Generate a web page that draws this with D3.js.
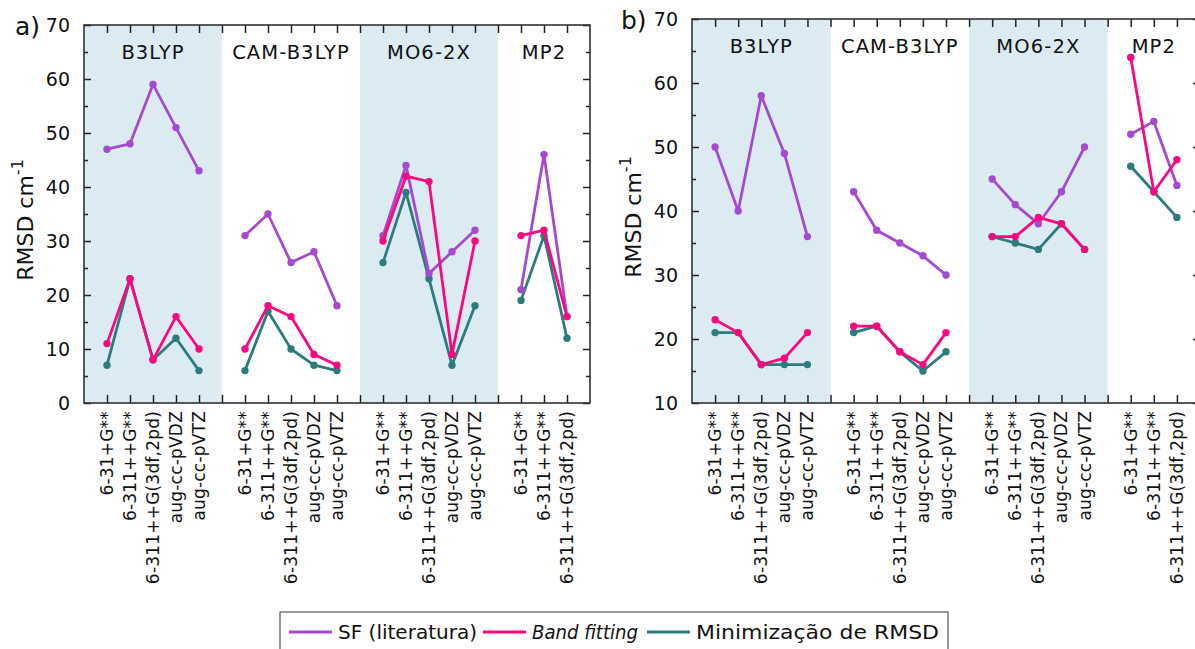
<!DOCTYPE html>
<html>
<head>
<meta charset="utf-8">
<script src="https://cdn.jsdelivr.net/npm/d3@7"></script>
<style>
body { margin: 0; background: #fff; }
text { font-family: "DejaVu Sans", Verdana, sans-serif; fill: #111; }
</style>
</head>
<body>
<div id="chart"></div>
<script>
// methods (groups) and basis sets
var groups = ["B3LYP", "CAM-B3LYP", "MO6-2X", "MP2"];
var groupSizes = [5, 5, 5, 3];
var basisSets = ["6-31+G**", "6-311++G**", "6-311++G(3df,2pd)", "aug-cc-pVDZ", "aug-cc-pVTZ"];
var seriesNames = ["SF (literatura)", "Band fitting", "Minimização de RMSD"];
var seriesColors = ["#a44ad2", "#fb077f", "#2c7c7e"];

// panel a) values, in group order
var sfA   = [47, 48, 59, 51, 43,  31, 35, 26, 28, 18,  31, 44, 24, 28, 32,  21, 46, 16];
var bandA = [11, 23, 8, 16, 10,   10, 18, 16, 9, 7,    30, 42, 41, 9, 30,   31, 32, 16];
var rmsdA = [7, 23, 8, 12, 6,     6, 17, 10, 7, 6,     26, 39, 23, 7, 18,   19, 31, 12];

// panel b) values
var sfB   = [50, 40, 58, 49, 36,  43, 37, 35, 33, 30,  45, 41, 38, 43, 50,  52, 54, 44];
var bandB = [23, 21, 16, 17, 21,  22, 22, 18, 16, 21,  36, 36, 39, 38, 34,  64, 43, 48];
var rmsdB = [21, 21, 16, 16, 16,  21, 22, 18, 15, 18,  36, 35, 34, 38, 34,  47, 43, 39];

var yTicksA = [0, 10, 20, 30, 40, 50, 60, 70];
var yTicksB = [10, 20, 30, 40, 50, 60, 70];

var svg = d3.select("#chart").append("svg")
	.attr("width", 1195)
	.attr("height", 649);

// turn a flat value list into points with a slot index (one empty slot between groups)
function toPoints(values) {
	var pts = [];
	var k = 0;
	for (var g = 0; g < groups.length; g++) {
		for (var j = 0; j < groupSizes[g]; j++) {
			pts.push({group: g, slot: g * 6 + j, value: values[k], label: basisSets[j]});
			k++;
		}
	}
	return pts;
}

function drawPanel(cfg) {
	var x = d3.scaleLinear().domain([-1, 21]).range([cfg.left, cfg.right]);
	var y = d3.scaleLinear().domain(cfg.yDomain).range([cfg.bottom, cfg.top]);
	var g = svg.append("g");

	// shaded group backgrounds
	[0, 2].forEach(function(gi) {
		g.append("rect")
			.attr("x", x(gi * 6 - 1))
			.attr("y", cfg.top)
			.attr("width", x(gi * 6 + 5) - x(gi * 6 - 1))
			.attr("height", cfg.bottom - cfg.top)
			.attr("fill", "#dcebf2");
	});

	// group names
	groups.forEach(function(name, gi) {
		var mid = gi * 6 + (groupSizes[gi] - 1) / 2;
		g.append("text")
			.attr("x", x(mid))
			.attr("y", cfg.top + 34)
			.attr("text-anchor", "middle")
			.attr("font-size", "19.5px")
			.attr("letter-spacing", "1.1px")
			.text(name);
	});

	// series lines, one path per group
	var allSeries = [cfg.rmsd, cfg.sf, cfg.band];
	var order = [2, 0, 1];
	var line = d3.line().x(function(d) { return x(d.slot); }).y(function(d) { return y(d.value); });
	allSeries.forEach(function(vals, si) {
		var pts = toPoints(vals);
		var color = seriesColors[order[si]];
		var byGroup = d3.groups(pts, function(d) { return d.group; });
		byGroup.forEach(function(grp) {
			g.append("path")
				.attr("d", line(grp[1]))
				.attr("fill", "none")
				.attr("stroke", color)
				.attr("stroke-width", 2.8)
				.attr("stroke-linejoin", "round");
		});
		g.selectAll(null).data(pts).enter().append("circle")
			.attr("cx", function(d) { return x(d.slot); })
			.attr("cy", function(d) { return y(d.value); })
			.attr("r", 3.7)
			.attr("fill", color);
	});

	// axes: ticks pointing inward, on all four sides
	var slots = d3.range(0, 21);
	var yMinor = d3.range(cfg.yDomain[0] + 5, cfg.yDomain[1], 10);
	var tickCol = "#222";

	g.append("g").attr("transform", "translate(0," + cfg.bottom + ")")
		.call(d3.axisBottom(x).tickValues(slots).tickSize(-8).tickFormat(""));
	g.append("g").attr("transform", "translate(0," + cfg.top + ")")
		.call(d3.axisTop(x).tickValues(slots).tickSize(-8).tickFormat(""));
	g.append("g").attr("transform", "translate(" + cfg.left + ",0)")
		.call(d3.axisLeft(y).tickValues(cfg.yTicks).tickSize(-7).tickPadding(14).tickFormat(d3.format("d")));
	g.append("g").attr("transform", "translate(" + cfg.left + ",0)")
		.call(d3.axisLeft(y).tickValues(yMinor).tickSize(-4).tickFormat(""));
	g.append("g").attr("transform", "translate(" + cfg.right + ",0)")
		.call(d3.axisRight(y).tickValues(cfg.yTicks).tickSize(-7).tickFormat(""));
	g.append("g").attr("transform", "translate(" + cfg.right + ",0)")
		.call(d3.axisRight(y).tickValues(yMinor).tickSize(-4).tickFormat(""));

	g.selectAll(".domain").remove();
	g.selectAll(".tick line").attr("stroke", tickCol).attr("stroke-width", 1.5);
	g.selectAll(".tick text").attr("font-size", "19px").attr("fill", "#111")
		.attr("font-family", "DejaVu Sans, Verdana, sans-serif");

	// frame
	g.append("rect")
		.attr("x", cfg.left).attr("y", cfg.top)
		.attr("width", cfg.right - cfg.left).attr("height", cfg.bottom - cfg.top)
		.attr("fill", "none").attr("stroke", "#333").attr("stroke-width", 1.6);

	// rotated basis-set labels
	var labelPts = toPoints(cfg.sf);
	g.selectAll(null).data(labelPts).enter().append("text")
		.attr("transform", function(d) {
			return "translate(" + (x(d.slot) + 6) + "," + (cfg.bottom + 8) + ") rotate(-90)";
		})
		.attr("text-anchor", "end")
		.attr("font-size", "17px")
		.attr("letter-spacing", "0.2px")
		.text(function(d) { return d.label; });

	// y title
	var yt = g.append("text")
		.attr("transform", "translate(" + (cfg.left - 51) + "," + ((cfg.top + cfg.bottom) / 2 + 6) + ") rotate(-90)")
		.attr("text-anchor", "middle")
		.attr("font-size", "22px");
	yt.append("tspan").text("RMSD cm");
	yt.append("tspan").attr("dy", -10).attr("font-size", "16px").text("-1");

	// panel letter
	g.append("text")
		.attr("x", cfg.letterX).attr("y", cfg.letterY)
		.attr("font-size", "25px")
		.text(cfg.letter);
}

drawPanel({letter: "a)", letterX: 15, letterY: 35,
	left: 84, right: 590, top: 25, bottom: 403,
	yDomain: [0, 70], yTicks: yTicksA,
	sf: sfA, band: bandA, rmsd: rmsdA});

drawPanel({letter: "b)", letterX: 621, letterY: 29,
	left: 692, right: 1200, top: 19, bottom: 403,
	yDomain: [10, 70], yTicks: yTicksB,
	sf: sfB, band: bandB, rmsd: rmsdB});

// legend
var legend = svg.append("g");
legend.append("rect")
	.attr("x", 280).attr("y", 612)
	.attr("width", 668).attr("height", 60)
	.attr("fill", "#fff").attr("stroke", "#555").attr("stroke-width", 1.2);

var legendX = [289, 483, 647];
var legendTextW = [139, 106, 243];
seriesNames.forEach(function(name, i) {
	var lx = legendX[i];
	legend.append("line")
		.attr("x1", lx).attr("x2", lx + 43)
		.attr("y1", 632).attr("y2", 632)
		.attr("stroke", seriesColors[i]).attr("stroke-width", 2.8);
	legend.append("text")
		.attr("x", lx + 49).attr("y", 639)
		.attr("font-size", "19.5px")
		.attr("font-style", i == 1 ? "italic" : "normal")
		.attr("textLength", legendTextW[i])
		.attr("lengthAdjust", "spacingAndGlyphs")
		.text(name);
});
</script>
</body>
</html>
